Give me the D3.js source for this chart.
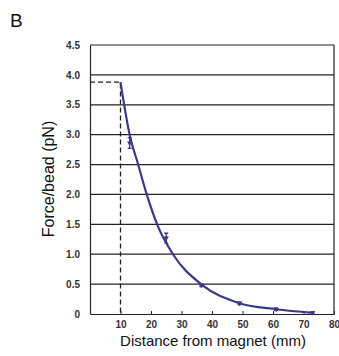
<!DOCTYPE html>
<html><head><meta charset="utf-8">
<script src="https://cdn.jsdelivr.net/npm/d3@7"></script>
<style>body{margin:0;background:#fff;font-family:"Liberation Sans",Arial,sans-serif}</style>
</head><body>
<svg id="c" width="339" height="356"></svg>
<script>
// Data
const curveDistance = [10, 13, 15.8, 18.6, 22, 27.2, 36.4, 49, 61, 73];
const curveForce    = [3.88, 3.0, 2.5, 2.0, 1.5, 1.0, 0.5, 0.18, 0.08, 0.02];
const markDistance = [13, 25, 36.5, 49, 61, 73];
const markForce    = [2.86, 1.27, 0.48, 0.18, 0.08, 0.02];
const markErr      = [0.09, 0.08, 0.02, 0.02, 0.02, 0.02];
const xTicks = [10, 20, 30, 40, 50, 60, 70, 80];
const yTicks = [0, 0.5, 1.0, 1.5, 2.0, 2.5, 3.0, 3.5, 4.0, 4.5];
const refDistance = 10, refForce = 3.88;

const svg = d3.select("#c");
const m = {l: 90, t: 45, r: 5, b: 42};
const W = 339 - m.l - m.r, H = 356 - m.t - m.b;
const x = d3.scaleLinear().domain([0, 80]).range([m.l, m.l + W]);
const y = d3.scaleLinear().domain([0, 4.5]).range([m.t + H, m.t]);

svg.append("text").attr("x", 10).attr("y", 27).attr("font-size", 19).attr("fill", "#111").text("B");

// gridlines
svg.append("g").selectAll("line").data(yTicks.filter(d => d > 0)).join("line")
  .attr("x1", m.l).attr("x2", m.l + W).attr("y1", d => y(d)).attr("y2", d => y(d))
  .attr("stroke", "#222").attr("stroke-width", 1.2);
// right border
svg.append("line").attr("x1", x(80)).attr("x2", x(80)).attr("y1", y(4.5)).attr("y2", y(0))
  .attr("stroke", "#222").attr("stroke-width", 1.2);

const yAxis = svg.append("g").attr("transform", `translate(${m.l},0)`)
  .call(d3.axisLeft(y).tickValues(yTicks).tickSize(0).tickPadding(10)
    .tickFormat(d => d === 0 ? "0" : d3.format(".1f")(d)));
const xAxis = svg.append("g").attr("transform", `translate(0,${m.t + H})`)
  .call(d3.axisBottom(x).tickValues(xTicks).tickSizeInner(-3).tickSizeOuter(0).tickPadding(7));
[yAxis, xAxis].forEach(a => {
  a.select(".domain").attr("stroke", "#222").attr("stroke-width", 1.2);
  a.selectAll(".tick line").attr("stroke", "#222");
  a.selectAll("text").attr("font-family", "Liberation Sans, Arial, sans-serif")
    .attr("font-size", 10).attr("font-weight", "bold").attr("fill", "#333");
});

// dashed reference lines
svg.append("path")
  .attr("d", `M${x(0)},${y(refForce)}H${x(refDistance)}V${y(0)}`)
  .attr("fill", "none").attr("stroke", "#222").attr("stroke-width", 1.3)
  .attr("stroke-dasharray", "5,3");

// curve
const pts = curveDistance.map((d, i) => [d, curveForce[i]]);
svg.append("path").datum(pts)
  .attr("d", d3.line().x(d => x(d[0])).y(d => y(d[1])).curve(d3.curveMonotoneX))
  .attr("fill", "none").attr("stroke", "#3b3a86").attr("stroke-width", 2.2);

// markers with error bars
const mk = markDistance.map((d, i) => ({d, f: markForce[i], e: markErr[i]}));
const g = svg.append("g").attr("stroke", "#3b3a86").attr("stroke-width", 1.4);
g.selectAll(".eb").data(mk).join("path")
  .attr("d", p => `M${x(p.d)},${y(p.f + p.e)}V${y(p.f - p.e)}M${x(p.d) - 2},${y(p.f + p.e)}h4M${x(p.d) - 2},${y(p.f - p.e)}h4`)
  .attr("fill", "none");
svg.append("g").selectAll("path").data(mk).join("path")
  .attr("d", d3.symbol(d3.symbolTriangle, 12)).attr("fill", "#3b3a86")
  .attr("transform", p => `translate(${x(p.d)},${y(p.f)}) rotate(180)`);

svg.append("text").attr("x", 213).attr("y", 346).attr("text-anchor", "middle")
  .attr("font-size", 15).attr("fill", "#111").text("Distance from magnet (mm)");
svg.append("text").attr("transform", `translate(54,${179}) rotate(-90)`)
  .attr("text-anchor", "middle").attr("font-size", 16).attr("fill", "#111").text("Force/bead (pN)");
</script>
</body></html>
